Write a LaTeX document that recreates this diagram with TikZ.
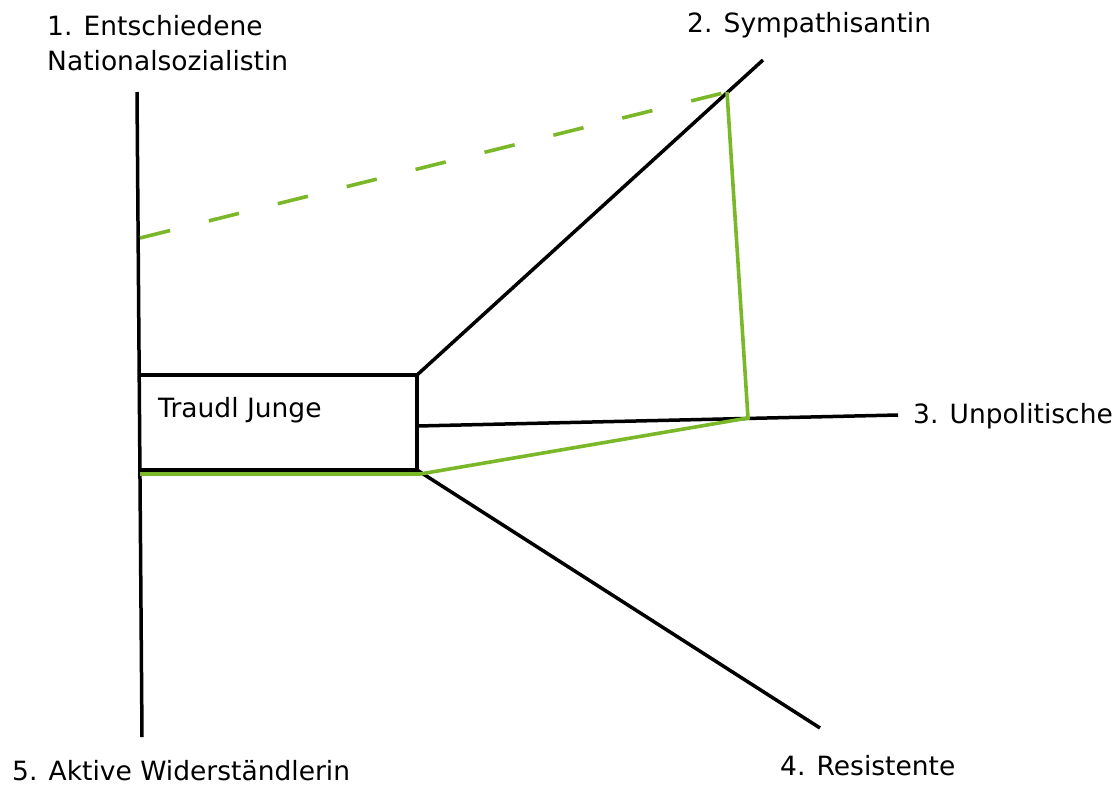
\documentclass[tikz,border=0pt]{standalone}
\usepackage{fontspec}
\setmainfont{DejaVu Sans}
\definecolor{lgreen}{HTML}{7AB829}
\begin{document}
\begin{tikzpicture}[x=1pt,y=-1pt,
  blk/.style={draw=black,line width=3.5pt},
  grn/.style={draw=lgreen,line width=3.6pt},
  lbl/.style={font=\fontsize{26.5}{35}\selectfont,anchor=base west,inner sep=0pt}]
\useasboundingbox (0,0) rectangle (1116,785);
% coordinates
\coordinate (vtop) at (137,92);
\coordinate (vbot) at (142,737);
\coordinate (bl) at (140,470);
\coordinate (tl) at (139,375);
\coordinate (tr) at (417,375);
\coordinate (br) at (417,470);
\coordinate (rm) at (417,426);
\coordinate (sym) at (763,60);
\coordinate (unp) at (898,415);
\coordinate (res) at (820,728);
\coordinate (gA) at (727,92);
\coordinate (gB) at (748,418);
\coordinate (gL) at (140,238);
\coordinate (gS) at (140,474);
\coordinate (gE) at (420,474);
\draw[blk] (vtop) -- (vbot);
\draw[blk] (tl) -- (tr) -- (br) -- (bl);
\draw[blk] (tr) -- (sym);
\draw[blk] (rm) -- (unp);
\draw[blk] (br) -- (res);
% green
\draw[grn] (gS) -- (gE) -- (gB) -- (gA);
\draw[grn,dash pattern=on 31pt off 40pt] (gL) -- (gA);
% labels
\node[lbl] (l1a) at (47,35) {1. Entschiedene};
\node[lbl] (l1b) at (47,70) {Nationalsozialistin};
\node[lbl] (l2) at (687,32) {2. Sympathisantin};
\node[lbl] (l3) at (913,423) {3. Unpolitische};
\node[lbl] (l4) at (780,775) {4. Resistente};
\node[lbl] (l5) at (12,780) {5. Aktive Widerständlerin};
\node[lbl] (tj) at (158,417) {Traudl Junge};
\end{tikzpicture}
\end{document}
